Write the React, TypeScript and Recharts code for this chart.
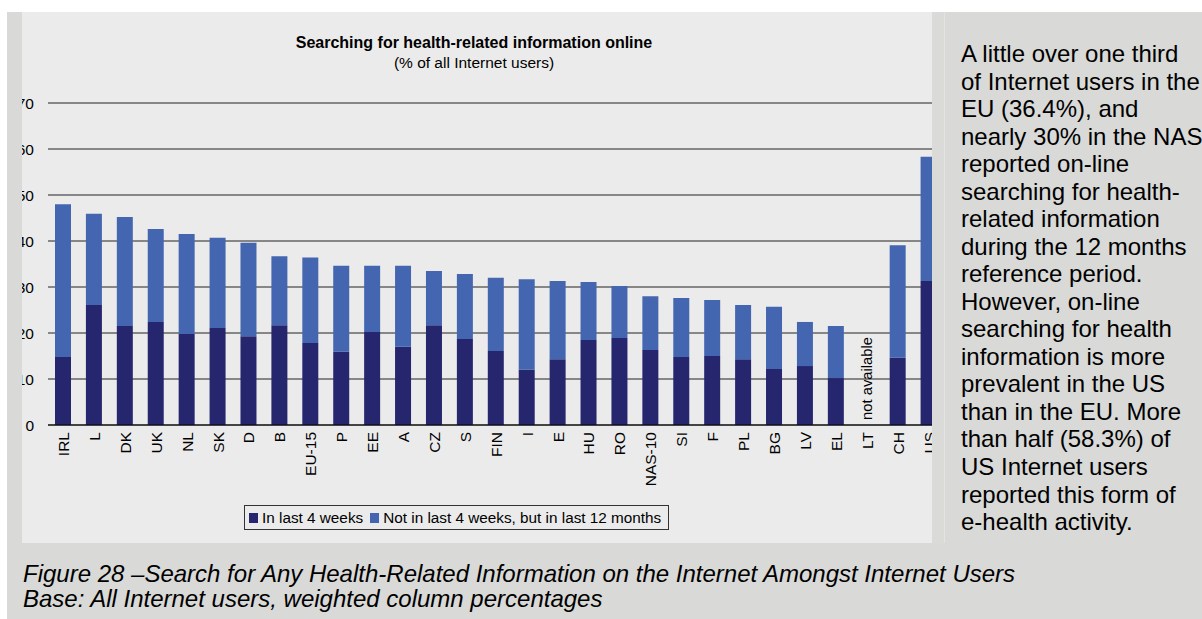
import React from 'react';
import { BarChart, Bar, XAxis, YAxis, CartesianGrid, ReferenceLine } from 'recharts';

// countries, in the order of the chart
const categories = [
  'IRL', 'L', 'DK', 'UK', 'NL', 'SK', 'D', 'B', 'EU-15', 'P', 'EE', 'A', 'CZ', 'S', 'FIN',
  'I', 'E', 'HU', 'RO', 'NAS-10', 'SI', 'F', 'PL', 'BG', 'LV', 'EL', 'LT', 'CH', 'US',
];

// % of internet users (LT not available)
const inLast4Weeks = [
  14.8, 26.1, 21.5, 22.4, 19.8, 21.1, 19.3, 21.7, 17.8, 15.9, 20.2, 17.0, 21.7, 18.7, 16.1,
  12.0, 14.3, 18.5, 18.9, 16.3, 14.8, 15.0, 14.3, 12.2, 12.8, 10.2, null, 14.6, 31.3,
];
const notLast4But12Months = [
  33.2, 19.8, 23.7, 20.2, 21.7, 19.6, 20.3, 15.0, 18.6, 18.7, 14.4, 17.6, 11.8, 14.1, 15.9,
  19.7, 17.0, 12.6, 11.3, 11.7, 12.8, 12.2, 11.8, 13.5, 9.6, 11.3, null, 24.5, 27.0,
];

const yTicks = [0, 10, 20, 30, 40, 50, 60, 70];
const seriesNames = ['In last 4 weeks', 'Not in last 4 weeks, but in last 12 months'];

const sideText = [
  'A little over one third',
  'of Internet users in the',
  'EU (36.4%), and',
  'nearly 30% in the NAS',
  'reported on-line',
  'searching for health-',
  'related information',
  'during the 12 months',
  'reference period.',
  'However, on-line',
  'searching for health',
  'information is more',
  'prevalent in the US',
  'than in the EU. More',
  'than half (58.3%) of',
  'US Internet users',
  'reported this form of',
  'e-health activity.',
];

const DARK = '#25266e';
const LIGHT = '#4466b0';
const FONT = '"Liberation Sans", Arial, Helvetica, sans-serif';

const chartData = categories.map((name, i) => ({
  name,
  recent: inLast4Weeks[i],
  year: notLast4But12Months[i],
}));

function CountryTick(props: any) {
  const { x, y, payload } = props;
  return (
    <g transform={`translate(${x},${y})`}>
      <text transform="rotate(-90)" textAnchor="end" dominantBaseline="central" fontSize={15.5} fill="#000">
        {payload.value}
      </text>
    </g>
  );
}

function NotAvailable(props: any) {
  const { viewBox } = props;
  const x = viewBox.x;
  const y = viewBox.y + viewBox.height - 5;
  return (
    <text
      transform={`translate(${x},${y}) rotate(-90)`}
      textAnchor="start"
      dominantBaseline="central"
      fontSize={14.8}
      fill="#000"
    >
      not available
    </text>
  );
}

export default function App() {
  return (
    <div style={{ position: 'absolute', left: 0, top: 0, width: 1202, height: 619, background: '#fff', fontFamily: FONT, overflow: 'hidden' }}>
      {/* chart panel */}
      <div style={{ position: 'absolute', left: 7, top: 12, width: 925, height: 531, background: '#ebebeb', overflow: 'hidden' }}>
        <div style={{ position: 'absolute', left: 0, top: 21.5, width: 934, textAlign: 'center', fontWeight: 'bold', fontSize: 16, lineHeight: '18px', color: '#000' }}>
          Searching for health-related information online
        </div>
        <div style={{ position: 'absolute', left: 0, top: 41.6, width: 934, textAlign: 'center', fontSize: 15.5, lineHeight: '18px', color: '#000' }}>
          (% of all Internet users)
        </div>

        <div style={{ position: 'absolute', left: -7, top: 0 }}>
          <BarChart width={960} height={488} data={chartData} margin={{ top: 91, right: 15.5, bottom: 0, left: 0 }}>
            <CartesianGrid vertical={false} stroke="#222" />
            <XAxis
              dataKey="name"
              interval={0}
              tickLine={false}
              tickSize={0}
              tickMargin={7}
              axisLine={{ stroke: '#000' }}
              height={75}
              tick={<CountryTick />}
            />
            <YAxis
              domain={[0, 70]}
              ticks={yTicks}
              width={48}
              axisLine={false}
              tickLine={false}
              tickSize={0}
              tickMargin={14}
              tick={{ fontSize: 15.5, fill: '#000' }}
            />
            <Bar dataKey="recent" name={seriesNames[0]} stackId="s" fill={DARK} barSize={16} isAnimationActive={false} />
            <Bar dataKey="year" name={seriesNames[1]} stackId="s" fill={LIGHT} barSize={16} isAnimationActive={false} />
            <ReferenceLine x="LT" stroke="none" label={<NotAvailable />} />
          </BarChart>
        </div>

        {/* legend */}
        <div
          style={{
            position: 'absolute', left: 237, top: 493, width: 423, height: 23,
            border: '1px solid #333', background: '#ebebeb',
            display: 'flex', alignItems: 'center', fontSize: 15.3, color: '#000', whiteSpace: 'nowrap',
          }}
        >
          <span style={{ display: 'inline-block', width: 9, height: 10, background: DARK, marginLeft: 4, marginRight: 4 }} />
          <span>{seriesNames[0]}</span>
          <span style={{ display: 'inline-block', width: 9, height: 10, background: LIGHT, marginLeft: 7, marginRight: 4 }} />
          <span>{seriesNames[1]}</span>
        </div>

        {/* left strip covering the cut-off axis labels */}
        <div style={{ position: 'absolute', left: 0, top: 0, width: 15, height: 531, background: '#d9d9d7' }} />
      </div>

      {/* divider strip */}
      <div style={{ position: 'absolute', left: 932, top: 12, width: 13, height: 531, background: '#dadad8', borderRight: '1px solid #e3e3e1', boxSizing: 'border-box' }} />

      {/* side text */}
      <div style={{ position: 'absolute', left: 945, top: 12, width: 257, height: 531, background: '#d9d9d7', overflow: 'hidden' }}>
        <div style={{ position: 'absolute', left: 16, top: 28, fontSize: 24, lineHeight: '27.53px', color: '#000', whiteSpace: 'nowrap' }}>
          {sideText.map((line) => (
            <div key={line}>{line}</div>
          ))}
        </div>
      </div>

      {/* caption */}
      <div style={{ position: 'absolute', left: 7, top: 543, width: 1195, height: 76, background: '#d9d9d7' }}>
        <div style={{ position: 'absolute', left: 16, top: 18, fontSize: 24, lineHeight: '25px', fontStyle: 'italic', color: '#000', whiteSpace: 'nowrap' }}>
          <div>Figure 28 –Search for Any Health-Related Information on the Internet Amongst Internet Users</div>
          <div>Base: All Internet users, weighted column percentages</div>
        </div>
      </div>
    </div>
  );
}
